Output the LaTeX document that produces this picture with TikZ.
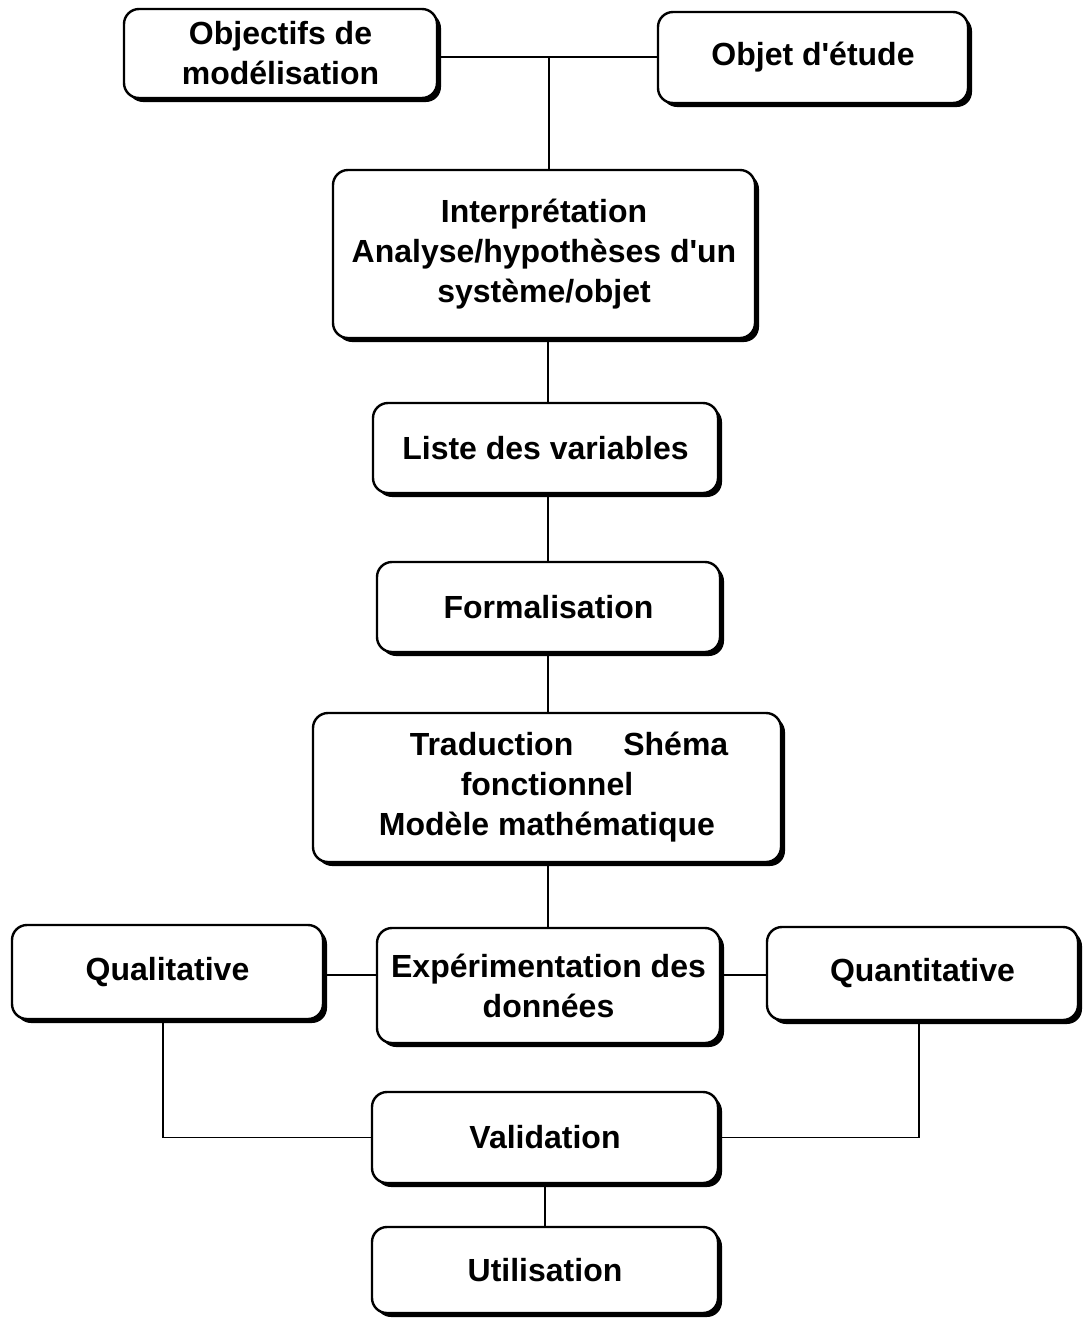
\documentclass[tikz,border=0pt]{standalone}
\usepackage{fontspec}
\newfontfamily\boxfont{Liberation Sans}[Ligatures=TeXOff]
\usetikzlibrary{shadows}
\begin{document}
\begin{tikzpicture}[x=1pt,y=-1pt,
  stage/.style={draw=black, line width=2.4pt, rounded corners=15pt, fill=white,
    align=center, inner sep=0pt,
    font=\boxfont\bfseries\fontsize{32}{40}\selectfont,
    drop shadow={shadow xshift=4pt, shadow yshift=-4pt, fill=black, opacity=1}},
  link/.style={draw=black, line width=1.3pt}]
\useasboundingbox (0,0) rectangle (1086,1318);

% boxes
\node[stage, minimum width=313pt, minimum height=89pt]  (obj)  at (280.5,53.5) {Objectifs de\\modélisation};
\node[stage, minimum width=310pt, minimum height=91pt]  (etu)  at (813,57.5)   {Objet d'étude};
\node[stage, minimum width=422pt, minimum height=168pt] (int)  at (544,254)    {Interprétation\\Analyse/hypothèses d'un\\système/objet};
\node[stage, minimum width=345pt, minimum height=90pt]  (lst)  at (545.5,448)  {Liste des variables};
\node[stage, minimum width=343pt, minimum height=90pt]  (frm)  at (548.5,607)  {Formalisation};
\node[stage, minimum width=468pt, minimum height=149pt] (trd)  at (547,787.5)  {\hspace*{44pt}Traduction\hspace{50pt}Shéma\\fonctionnel\\Modèle mathématique};
\node[stage, minimum width=343pt, minimum height=115pt] (exp)  at (548.5,985.5){Expérimentation des\\données};
\node[stage, minimum width=311pt, minimum height=94pt]  (qual) at (167.5,972)  {Qualitative};
\node[stage, minimum width=311pt, minimum height=93pt]  (quan) at (922.5,973.5){Quantitative};
\node[stage, minimum width=346pt, minimum height=91pt]  (val)  at (545,1137.5) {Validation};
\node[stage, minimum width=346pt, minimum height=86pt]  (uti)  at (545,1270)   {Utilisation};

% junctions
\coordinate (top)   at (549,57);
\coordinate (spine) at (548,0);
\coordinate (mid)   at (0,975);

% connectors
\draw[link] (obj.east |- top) -- (etu.west |- top);
\draw[link] (top) -- (top |- int.north);
\draw[link] (spine |- int.south) -- (spine |- lst.north);
\draw[link] (spine |- lst.south) -- (spine |- frm.north);
\draw[link] (spine |- frm.south) -- (spine |- trd.north);
\draw[link] (spine |- trd.south) -- (spine |- exp.north);
\draw[link] (qual.east |- mid) -- (exp.west |- mid);
\draw[link] (exp.east |- mid) -- (quan.west |- mid);
\draw[link] ([xshift=-4.5pt]qual.south) |- (val.west);
\draw[link] ([xshift=-3.5pt]quan.south) |- (val.east);
\draw[link] (val.south) -- (uti.north);
\end{tikzpicture}
\end{document}
